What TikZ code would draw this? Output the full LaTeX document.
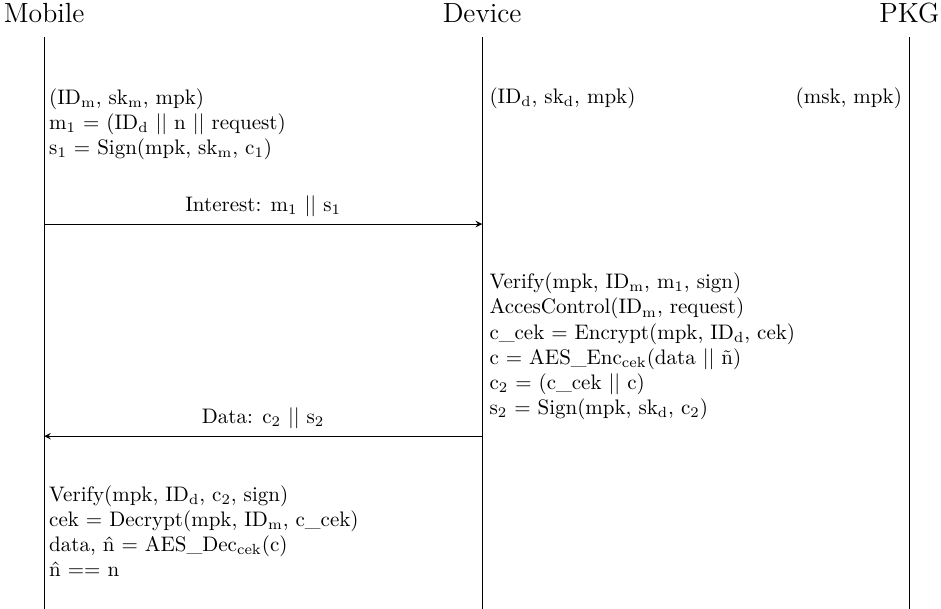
\documentclass[tikz,border=0pt]{standalone}
\usepackage{tikz}
\usetikzlibrary{arrows.meta,positioning,calc}

\begin{document}
\begin{tikzpicture}[
  actor/.style={font=\fontsize{13.2}{16}\selectfont, inner sep=1pt},
  lifeline/.style={draw, thin},
  note/.style={align=left, anchor=west},
  noteleft/.style={align=right, anchor=east},
  arrow/.style={->, >=stealth},
  msg/.style={above, midway}
]

\useasboundingbox (0,0) rectangle (15.75,-10.19);

\node[actor] (mobile) at (0.74,-0.22) {Mobile};
\node[actor] (device) at (8.07,-0.22) {Device};
\node[actor] (pkg) at (15.22,-0.22) {PKG};

\coordinate (mobiletop) at (0.74,-0.62);
\coordinate (devicetop) at (8.07,-0.62);
\coordinate (pkgtop) at (15.22,-0.62);
\coordinate (mobileend) at (0.74,-10.19);
\coordinate (deviceend) at (8.07,-10.19);
\coordinate (pkgend) at (15.22,-10.19);

\draw[lifeline] (mobiletop) -- (mobileend);
\draw[lifeline] (devicetop) -- (deviceend);
\draw[lifeline] (pkgtop) -- (pkgend);

% initial keys
\node[note] (mobilekeys) at (0.70,-2.08) {(ID$_\mathrm{m}$, sk$_\mathrm{m}$, mpk)\\
  m$_1$ = (ID$_\mathrm{d}$ $||$ n $||$ request)\\
  s$_1$ = Sign(mpk, sk$_\mathrm{m}$, c$_1$)};
\node[note] (devicekeys) at (8.07,-1.64) {(ID$_\mathrm{d}$, sk$_\mathrm{d}$, mpk)};
\node[noteleft] (pkgkeys) at (15.22,-1.64) {(msk, mpk)};

% interest
\coordinate (int-from) at (0.74,-3.75);
\coordinate (int-to) at (8.07,-3.75);
\draw[arrow] (int-from) -- node[msg] {Interest: m$_1$ $||$ s$_1$} (int-to);

\node[note] (deviceproc) at (8.07,-5.80) {Verify(mpk, ID$_\mathrm{m}$, m$_1$, sign)\\
  AccesControl(ID$_\mathrm{m}$, request)\\
  c\_cek = Encrypt(mpk, ID$_\mathrm{d}$, cek)\\
  c = AES\_Enc$_\mathrm{cek}$(data $||$ ñ)\\
  c$_2$ = (c\_cek $||$ c)\\
  s$_2$ = Sign(mpk, sk$_\mathrm{d}$, c$_2$)};

% data
\coordinate (data-from) at (8.07,-7.30);
\coordinate (data-to) at (0.74,-7.30);
\draw[arrow] (data-from) -- node[msg] {Data: c$_2$ $||$ s$_2$} (data-to);

\node[note] (mobileproc) at (0.70,-8.89) {Verify(mpk, ID$_\mathrm{d}$, c$_2$, sign)\\
  cek = Decrypt(mpk, ID$_\mathrm{m}$, c\_cek)\\
  data, \^{n} = AES\_Dec$_\mathrm{cek}$(c)\\
  \^{n} == n};

\end{tikzpicture}
\end{document}
